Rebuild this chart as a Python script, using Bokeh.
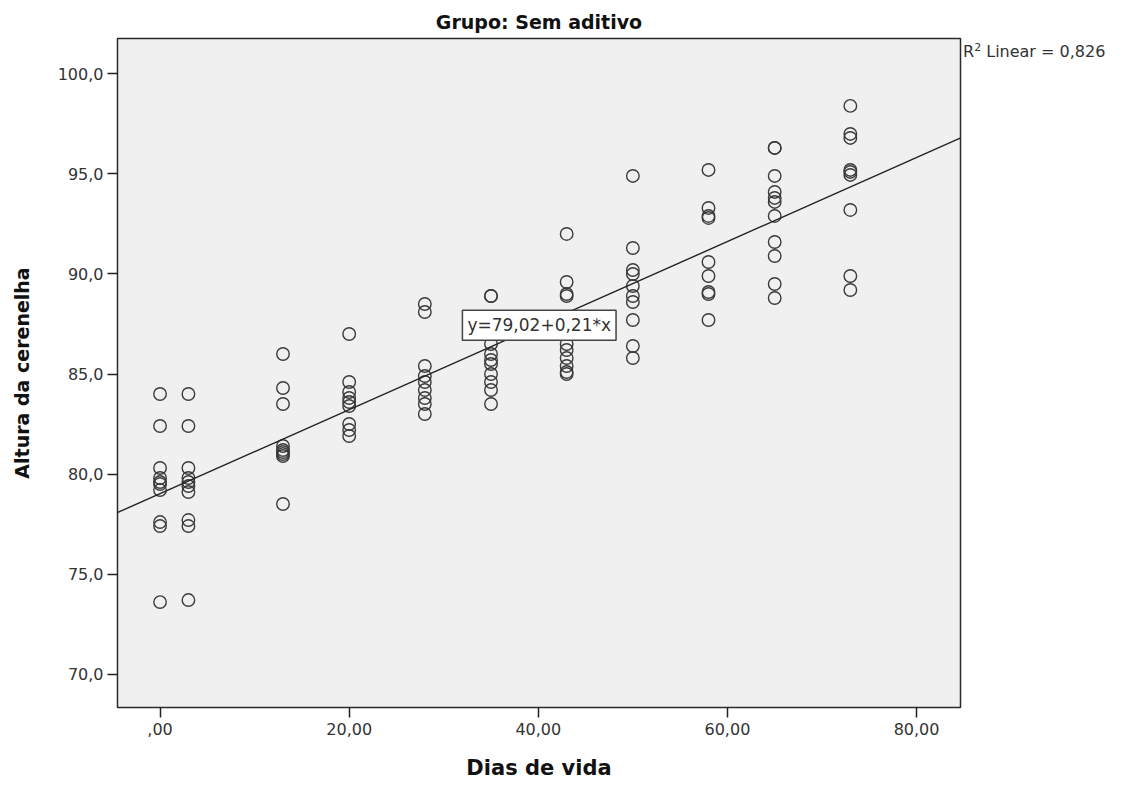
from bokeh.plotting import figure
from bokeh.models import Range1d, FixedTicker, Label, Slope, ColumnDataSource, Div
from bokeh.layouts import row
from bokeh.embed import file_html
from bokeh.resources import INLINE

# ---- data ----
dias = [0, 3, 13, 20, 28, 35, 43, 50, 58, 65, 73]
altura = [
    [84.0, 82.4, 80.3, 79.8, 79.6, 79.5, 79.2, 77.6, 77.4, 73.6],
    [84.0, 82.4, 80.3, 79.8, 79.6, 79.4, 79.1, 77.7, 77.4, 73.7],
    [86.0, 84.3, 83.5, 81.4, 81.2, 81.1, 81.0, 80.9, 78.5],
    [87.0, 84.6, 84.1, 83.8, 83.6, 83.4, 82.5, 82.2, 81.9],
    [88.5, 88.1, 85.4, 84.9, 84.6, 84.2, 83.8, 83.5, 83.0],
    [88.9, 88.9, 86.5, 86.0, 85.7, 85.5, 85.0, 84.6, 84.2, 83.5],
    [92.0, 89.6, 89.0, 88.9, 86.5, 86.2, 85.8, 85.4, 85.1, 85.0],
    [94.9, 91.3, 90.2, 90.0, 89.4, 88.9, 88.6, 87.7, 86.4, 85.8],
    [95.2, 93.3, 92.9, 92.8, 90.6, 89.9, 89.1, 89.0, 87.7],
    [96.3, 96.3, 94.9, 94.1, 93.8, 93.6, 92.9, 91.6, 90.9, 89.5, 88.8],
    [98.4, 97.0, 96.8, 95.2, 95.1, 94.95, 93.2, 89.9, 89.2],
]
intercepto = 79.02
inclinacao = 0.21
r2 = "0,826"
x_ticks = [0, 20, 40, 60, 80]
x_tick_labels = [",00", "20,00", "40,00", "60,00", "80,00"]
y_ticks = [70, 75, 80, 85, 90, 95, 100]
y_tick_labels = ["70,0", "75,0", "80,0", "85,0", "90,0", "95,0", "100,0"]

xs, ys = [], []
for d, vals in zip(dias, altura):
    for v in vals:
        xs.append(d)
        ys.append(v)
src = ColumnDataSource(dict(x=xs, y=ys))

FONT = "DejaVu Sans"

p = figure(width=962, height=782, output_backend="svg", toolbar_location=None,
           x_range=Range1d(-4.5, 84.65), y_range=Range1d(68.33, 101.77),
           min_border_left=117, min_border_right=2, min_border_top=38,
           min_border_bottom=75)
p.background_fill_color = "#f0f0f0"
p.border_fill_color = "white"
p.outline_line_color = "#2a2a2a"
p.outline_line_width = 1.5
p.grid.visible = False

p.title.text = "Grupo: Sem aditivo"
p.title.align = "center"
p.title.text_font = FONT
p.title.text_font_size = "19px"
p.title.text_font_style = "bold"
p.title.text_color = "#111111"
p.title.standoff = 11

for ax in (p.xaxis[0], p.yaxis[0]):
    ax.axis_line_color = None
    ax.minor_tick_line_color = None
    ax.major_tick_line_color = "#222222"
    ax.major_tick_line_width = 1.5
    ax.major_tick_in = 0
    ax.major_tick_out = 10
    ax.major_label_text_font = FONT
    ax.major_label_text_font_size = "16px"
    ax.major_label_text_color = "#333333"
    ax.axis_label_text_font = FONT
    ax.axis_label_text_font_style = "bold"
    ax.axis_label_text_color = "#111111"

p.xaxis.axis_label_text_font_size = "21px"
p.yaxis.axis_label_text_font_size = "19px"
p.xaxis.ticker = FixedTicker(ticks=x_ticks)
p.xaxis.major_label_overrides = {t: l for t, l in zip(x_ticks, x_tick_labels)}
p.yaxis.ticker = FixedTicker(ticks=y_ticks)
p.yaxis.major_label_overrides = {t: l for t, l in zip(y_ticks, y_tick_labels)}
p.xaxis.axis_label = "Dias de vida"
p.yaxis.axis_label = "Altura da cerenelha"
p.xaxis.major_label_standoff = 5
p.yaxis.major_label_standoff = 4
p.xaxis.axis_label_standoff = 18
p.yaxis.axis_label_standoff = 22

p.add_layout(Slope(gradient=inclinacao, y_intercept=intercepto,
                   line_color="#222222", line_width=1.4))

p.scatter("x", "y", source=src, marker="circle", size=12.5,
          fill_color=None, line_color="#3a3a3a", line_width=1.4)

xm = 40.1
p.add_layout(Label(x=xm, y=intercepto + inclinacao * xm,
                   text="y=79,02+0,21*x",
                   text_align="center", text_baseline="middle",
                   text_font=FONT, text_font_size="17px", text_color="#333333",
                   background_fill_color="white",
                   border_line_color="#444444", border_line_width=1.5,
                   padding=5))

r2_div = Div(text="R<sup style='font-size:11px'>2</sup> Linear = " + r2,
             width=158, height=80, margin=(0, 0, 0, 1),
             styles={"font-family": "DejaVu Sans", "font-size": "16px",
                     "color": "#333333", "padding-top": "40px",
                     "white-space": "nowrap"})

layout = row(p, r2_div)
open("out.html", "w").write(file_html(layout, INLINE))
